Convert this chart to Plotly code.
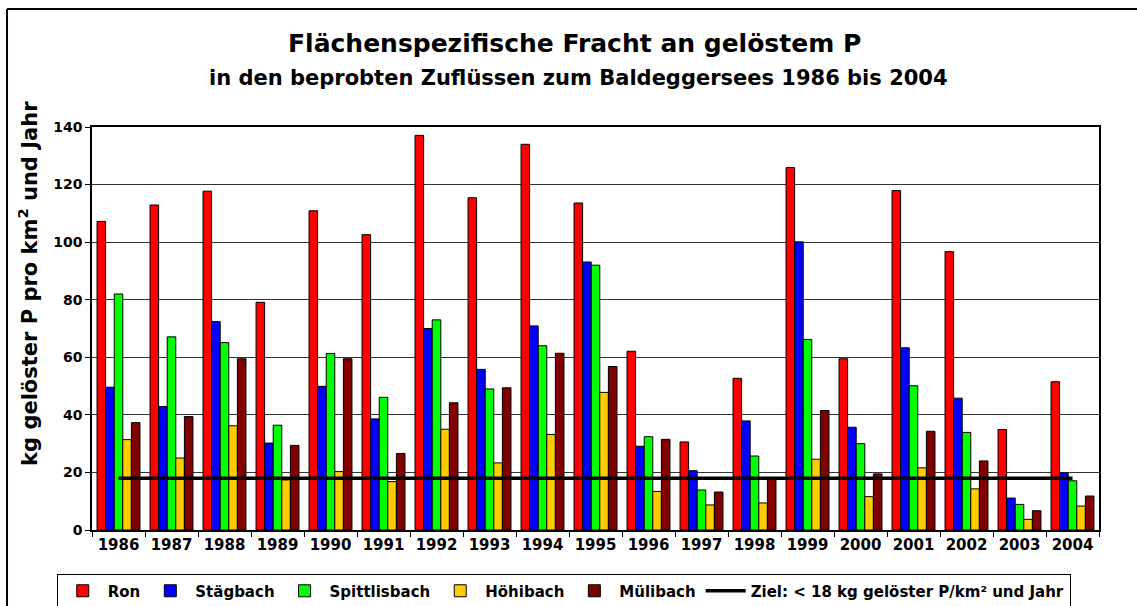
import plotly.graph_objects as go

years = [str(y) for y in range(1986, 2005)]

ron = [107.2, 112.9, 117.7, 79.1, 110.9, 102.6, 137.1, 115.4, 134.0, 113.6,
       62.1, 30.6, 52.7, 125.9, 59.5, 117.9, 96.7, 34.9, 51.5]
staegbach = [49.6, 42.9, 72.4, 30.2, 49.9, 38.6, 70.0, 55.8, 70.9, 93.1,
             29.1, 20.6, 37.9, 100.1, 35.7, 63.3, 45.8, 11.1, 19.8]
spittlisbach = [82.0, 67.1, 65.1, 36.4, 61.3, 46.1, 73.0, 49.0, 64.0, 92.0,
                32.4, 13.9, 25.7, 66.2, 30.0, 50.1, 33.9, 8.9, 17.1]
hoehibach = [31.4, 25.0, 36.2, 17.4, 20.3, 16.8, 35.0, 23.3, 33.2, 47.8,
             13.4, 8.7, 9.4, 24.6, 11.6, 21.6, 14.3, 3.7, 8.3]
muelibach = [37.3, 39.4, 59.5, 29.4, 59.5, 26.6, 44.2, 49.4, 61.4, 56.8,
             31.5, 13.2, 17.8, 41.5, 19.5, 34.3, 24.0, 6.7, 11.8]
ziel = 18

series = [
    ("Ron", ron, "#FF0000"),
    ("Stägbach", staegbach, "#0000FF"),
    ("Spittlisbach", spittlisbach, "#00FF00"),
    ("Höhibach", hoehibach, "#FFCC00"),
    ("Mülibach", muelibach, "#800000"),
]

font = "DejaVu Sans, Arial, sans-serif"

fig = go.Figure()
for name, vals, col in series:
    fig.add_trace(go.Bar(x=years, y=vals, name=name,
                         marker=dict(color=col, line=dict(color="black", width=1))))

fig.add_trace(go.Scatter(x=years, y=[ziel] * len(years), mode="lines",
                         name="Ziel: < 18 kg gelöster P/km² und Jahr",
                         line=dict(color="black", width=3.5)))

fig.update_layout(
    width=1137, height=606,
    margin=dict(l=92, r=38, t=127, b=76, autoexpand=False),
    paper_bgcolor="white", plot_bgcolor="white",
    barmode="group", bargap=0.19, bargroupgap=0,
    font=dict(family=font, color="black"),
    legend=dict(orientation="h", x=-0.035, xanchor="left", y=-0.108, yanchor="top",
                bordercolor="black", borderwidth=1, bgcolor="white",
                font=dict(size=15, family=font, weight="bold"),
                itemwidth=40, tracegroupgap=0),
    annotations=[
        dict(text="<b>Flächenspezifische Fracht an gelöstem P</b>", xref="paper", yref="paper",
             x=0.479, y=1.206, xanchor="center", yanchor="middle", showarrow=False,
             font=dict(size=25, family=font, color="black")),
        dict(text="<b>in den beprobten Zuflüssen zum Baldeggersees 1986 bis 2004</b>",
             xref="paper", yref="paper", x=0.483, y=1.122, xanchor="center", yanchor="middle",
             showarrow=False, font=dict(size=21, family=font, color="black")),
        dict(text="<b>kg gelöster P pro km<sup>2</sup> und Jahr</b>", xref="paper", yref="paper",
             x=-0.0636, y=0.613, xanchor="center", yanchor="middle", textangle=-90,
             showarrow=False, font=dict(size=21, family=font, color="black")),
    ],
    shapes=[
        dict(type="line", xref="paper", yref="paper", x0=-0.0844, x1=1.04,
             y0=1.293, y1=1.293, line=dict(color="black", width=2)),
        dict(type="line", xref="paper", yref="paper", x0=-0.0844, x1=-0.0844,
             y0=1.293, y1=-0.2, line=dict(color="black", width=2)),
    ],
)

fig.update_xaxes(type="category", showline=True, linecolor="black", linewidth=1.5,
                 mirror=True, ticks="outside", tickson="boundaries", ticklen=5,
                 tickcolor="black", showgrid=False,
                 tickfont=dict(size=15, family=font, weight="bold"))
fig.update_yaxes(range=[0, 140], dtick=20, showline=True, linecolor="black", linewidth=1.5,
                 mirror=True, ticks="outside", ticklen=5, tickcolor="black",
                 showgrid=True, gridcolor="#333", gridwidth=1, zeroline=False,
                 tickfont=dict(size=14, family=font, weight="bold"))

fig.write_html("out.html", config={"displayModeBar": False},
               post_script="document.body.style.margin='0';")
